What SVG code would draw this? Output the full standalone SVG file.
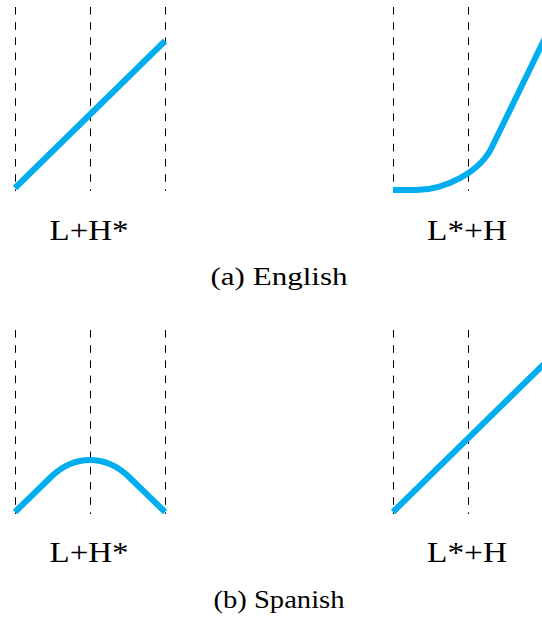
<svg xmlns="http://www.w3.org/2000/svg" width="542" height="617" viewBox="0 0 542 617">
<style>
.d{stroke:#000;stroke-width:1;stroke-dasharray:7.6 7.6;fill:none}
.c{stroke:#00AEEF;stroke-width:6;fill:none;stroke-linejoin:round}
text{font-family:'Liberation Serif','Times New Roman',Times,serif;fill:#000}
.t{font-size:29px}
.s{font-size:25px}
</style>
<rect width="542" height="617" fill="#fff"/>
<g id="guides">
<path class="d" d="M15.5 7V191M90.5 7V191M165.5 7V191M393.5 7V191M468.5 7V191"/>
<path class="d" d="M15.5 330V514M90.5 330V514M165.5 330V514M393.5 330V514M468.5 330V514"/>
</g>
<g id="connectors">
<path id="a1" class="c" d="M15 188L165 41"/>
<path id="a2" class="c" d="M393 190L416 190C445 190 480 172 492 147L545 38"/>
<path id="b1" class="c" d="M15 512L52 476C66 463 80 460 90 460C100 460 114 463 128 476L165 512"/>
<path id="b2" class="c" d="M393 512L545 363"/>
</g>
<g id="labels">
<text class="t" x="89" y="240" text-anchor="middle" textLength="79" lengthAdjust="spacingAndGlyphs">L+H*</text>
<text class="t" x="467" y="240" text-anchor="middle" textLength="80" lengthAdjust="spacingAndGlyphs">L*+H</text>
<text class="s" x="279" y="285" text-anchor="middle" textLength="137" lengthAdjust="spacingAndGlyphs">(a) English</text>
<text class="t" x="89" y="562" text-anchor="middle" textLength="79" lengthAdjust="spacingAndGlyphs">L+H*</text>
<text class="t" x="467" y="562" text-anchor="middle" textLength="80" lengthAdjust="spacingAndGlyphs">L*+H</text>
<text class="s" x="279" y="608" text-anchor="middle" textLength="131" lengthAdjust="spacingAndGlyphs">(b) Spanish</text>
</g>
</svg>
